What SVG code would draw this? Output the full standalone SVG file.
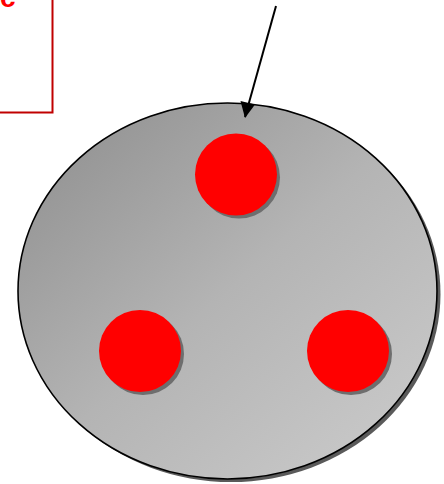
<svg xmlns="http://www.w3.org/2000/svg" width="444" height="484" viewBox="0 0 444 484">
<style>
.lbl{font-family:"Liberation Sans",Arial,sans-serif;font-weight:bold;fill:#ff0000}
.dot{fill:#ff0000}
.dotsh{fill:#6e6e6e}
</style>
<defs>
<linearGradient id="g" x1="0" y1="0" x2="1" y2="1">
<stop offset="0" stop-color="#8c8c8c"/>
<stop offset="0.5" stop-color="#b4b4b4"/>
<stop offset="1" stop-color="#cdcdcd"/>
</linearGradient>
<marker id="ah" markerWidth="10" markerHeight="10" refX="9" refY="5" orient="auto" markerUnits="userSpaceOnUse" viewBox="0 0 10 10">
<path d="M0,0 L10,5 L0,10 z" fill="#000"/>
</marker>
</defs>
<rect width="444" height="484" fill="#fff"/>
<g id="label-box">
<rect x="-10" y="-10" width="62.5" height="122.5" fill="none" stroke="#c00000" stroke-width="2"/>
<text class="lbl" x="0" y="7" font-size="28">c</text>
</g>
<g id="plate">
<ellipse cx="231" cy="294" rx="209.5" ry="188" fill="#5a5a5a"/>
<ellipse cx="227.5" cy="291" rx="209.5" ry="188" fill="url(#g)" stroke="#000" stroke-width="1.6"/>
</g>
<g id="dot-top">
<circle cx="239" cy="177.5" r="41" class="dotsh"/>
<circle cx="236" cy="174.5" r="41" class="dot"/>
</g>
<g id="dot-left">
<circle cx="143" cy="354" r="41" class="dotsh"/>
<circle cx="140" cy="351" r="41" class="dot"/>
</g>
<g id="dot-right">
<circle cx="351" cy="354" r="41" class="dotsh"/>
<circle cx="348" cy="351" r="41" class="dot"/>
</g>
<g id="connectors">
<line x1="276" y1="6" x2="245" y2="117" stroke="#000" stroke-width="2"/>
<path d="M245,118 L240.5,101 L255,104.5 z" fill="#000"/>
</g>
</svg>
